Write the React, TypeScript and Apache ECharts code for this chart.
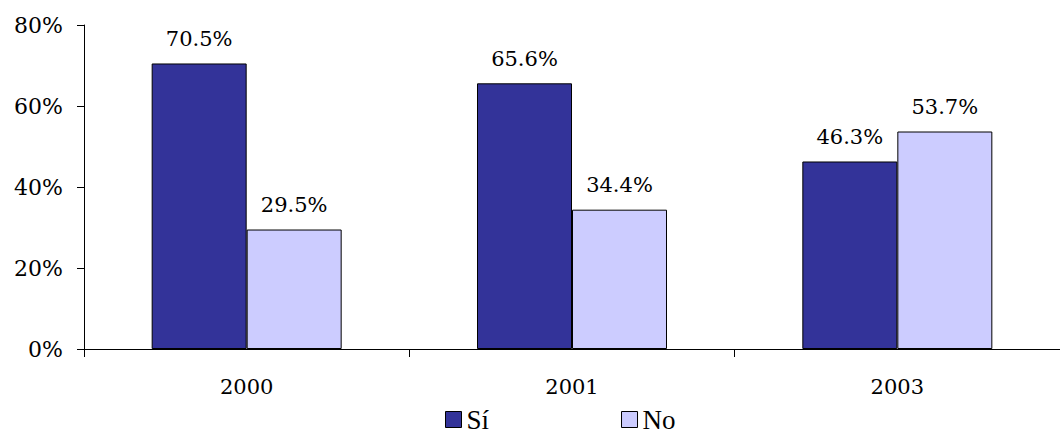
import React, { useEffect, useRef } from "react";
import * as echarts from "echarts";

const categories = ["2000", "2001", "2003"];
const siValues = [70.5, 65.6, 46.3];
const noValues = [29.5, 34.4, 53.7];
const seriesNames = ["Sí", "No"];

export default function App() {
  const ref = useRef<HTMLDivElement>(null);
  useEffect(() => {
    document.body.style.margin = "0";
    const chart = echarts.init(ref.current!, null, { renderer: "svg" });
    const font = "DejaVu Serif";
    const labelCfg = {
      show: true,
      position: "top",
      distance: 14,
      color: "#000",
      fontFamily: font,
      fontSize: 21,
      formatter: (p: any) => p.value.toFixed(1) + "%",
    };
    chart.setOption({
      animation: false,
      backgroundColor: "#fff",
      grid: { left: 84, top: 25, bottom: 87, width: 987 },
      legend: {
        left: 445,
        top: 406,
        padding: 0,
        itemWidth: 16,
        itemHeight: 16,
        itemGap: 132,
        icon: "rect",
        data: seriesNames,
        itemStyle: { borderColor: "#000", borderWidth: 1 },
        textStyle: {
          fontFamily: "Liberation Serif",
          fontSize: 27,
          color: "#000",
          padding: [0, 0, 12, 0],
        },
      },
      xAxis: {
        type: "category",
        data: categories,
        axisLine: { lineStyle: { color: "#000", width: 1 } },
        axisTick: { show: true, length: 8, lineStyle: { color: "#000", width: 1 } },
        axisLabel: { color: "#000", fontFamily: font, fontSize: 21, margin: 27 },
      },
      yAxis: {
        type: "value",
        min: 0,
        max: 80,
        interval: 20,
        axisLine: { show: true, lineStyle: { color: "#000", width: 1 } },
        axisTick: { show: true, length: 7, lineStyle: { color: "#000" } },
        splitLine: { show: false },
        axisLabel: {
          color: "#000",
          fontFamily: font,
          fontSize: 22,
          margin: 21,
          formatter: "{value}%",
        },
      },
      series: [
        {
          name: seriesNames[0],
          type: "bar",
          data: siValues,
          barWidth: 95,
          barGap: "0%",
          itemStyle: { color: "#333399", borderColor: "#000", borderWidth: 1 },
          label: labelCfg,
        },
        {
          name: seriesNames[1],
          type: "bar",
          data: noValues,
          barWidth: 95,
          barGap: "0%",
          itemStyle: { color: "#CCCCFF", borderColor: "#000", borderWidth: 1 },
          label: labelCfg,
        },
      ],
    });
    return () => chart.dispose();
  }, []);
  return <div ref={ref} style={{ width: 1060, height: 436 }} />;
}
